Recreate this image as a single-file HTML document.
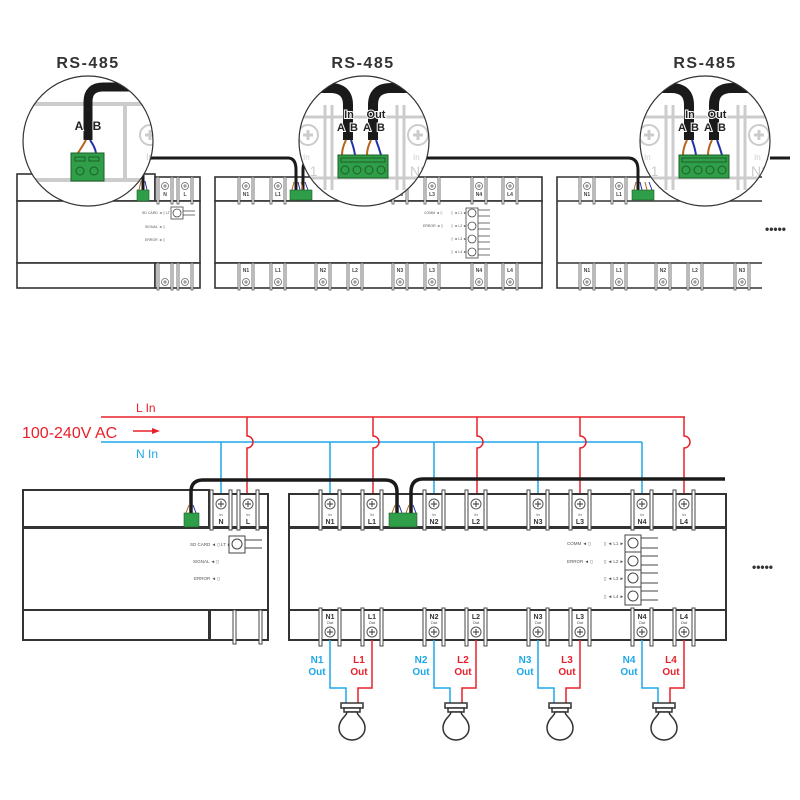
<!DOCTYPE html>
<html><head><meta charset="utf-8"><style>
html,body{margin:0;padding:0;background:#fff;}
svg{display:block;font-family:"Liberation Sans",sans-serif;}
</style></head><body>
<svg width="800" height="800" viewBox="0 0 800 800" xmlns="http://www.w3.org/2000/svg">
<defs>
  <g id="scr"><circle r="5" fill="#fff" stroke="#555" stroke-width="1"/><path d="M-3 0H3M0 -3V3" stroke="#555" stroke-width="1.2"/></g>
  <g id="scrs"><circle r="3.5" fill="#fff" stroke="#666" stroke-width="0.8"/><path d="M-2 0H2M0 -2V2" stroke="#666" stroke-width="0.8"/></g>
  <g id="bigscr"><circle r="10" fill="none" stroke="#ccc" stroke-width="2"/><path d="M-5 0H5M0 -5V5" stroke="#ccc" stroke-width="3"/></g>
  <g id="bulb" fill="#fff" stroke="#333" stroke-width="1.5">
    <rect x="-11" y="0" width="22" height="5"/>
    <rect x="-8" y="5" width="16" height="4"/>
    <path d="M-5 9 C-5 13 -13 16 -13 25 A13 12 0 0 0 13 25 C13 16 5 13 5 9 Z"/>
  </g>
  <g id="tb"><rect x="-11" y="-4" width="3" height="40" fill="#fff" stroke="#444"/><rect x="8" y="-4" width="3" height="40" fill="#fff" stroke="#444"/><use href="#scr" y="10"/></g>
  <g id="bb"><rect x="-11" y="-2" width="3" height="38" fill="#fff" stroke="#444"/><rect x="8" y="-2" width="3" height="38" fill="#fff" stroke="#444"/><use href="#scr" y="22"/></g>
  <g id="ts"><rect x="-8" y="-3" width="2" height="27" fill="#fff" stroke="#555" stroke-width="0.8"/><rect x="6" y="-3" width="2" height="27" fill="#fff" stroke="#555" stroke-width="0.8"/><use href="#scrs" y="6"/></g>
  <g id="bs"><rect x="-8" y="-1" width="2" height="27" fill="#fff" stroke="#555" stroke-width="0.8"/><rect x="6" y="-1" width="2" height="27" fill="#fff" stroke="#555" stroke-width="0.8"/><use href="#scrs" y="18"/></g>
  <clipPath id="c1"><circle cx="88" cy="141" r="65"/></clipPath>
  <clipPath id="c2"><circle cx="364" cy="141" r="65"/></clipPath>
  <clipPath id="c3"><circle cx="705" cy="141" r="65"/></clipPath>
</defs>

<g font-weight="bold" fill="#333" font-size="16" letter-spacing="1.5" text-anchor="middle">
  <text x="88" y="68">RS-485</text>
  <text x="363" y="68">RS-485</text>
  <text x="705" y="68">RS-485</text>
</g>

<g stroke="#333" stroke-width="1.6" fill="#fff">
  <rect x="17" y="174" width="138" height="27"/>
  <rect x="155" y="177" width="45" height="24"/>
  <rect x="17" y="201" width="183" height="62"/>
  <rect x="17" y="263" width="138" height="25"/>
  <rect x="155" y="263" width="45" height="25"/>
  <rect x="215" y="177" width="327" height="24"/>
  <rect x="215" y="201" width="327" height="62"/>
  <rect x="215" y="263" width="327" height="25"/>
  <path d="M762 177H557V288H762M557 201H762M557 263H762" fill="#fff"/>
</g>
<g>
  <use href="#ts" x="165" y="180"/><use href="#ts" x="185" y="180"/>
  <use href="#bs" x="165" y="264"/><use href="#bs" x="185" y="264"/>
  <use href="#ts" x="246" y="180"/><use href="#ts" x="278" y="180"/><use href="#ts" x="400" y="180"/><use href="#ts" x="432" y="180"/><use href="#ts" x="479" y="180"/><use href="#ts" x="510" y="180"/>
  <use href="#bs" x="246" y="264"/><use href="#bs" x="278" y="264"/><use href="#bs" x="323" y="264"/><use href="#bs" x="355" y="264"/><use href="#bs" x="400" y="264"/><use href="#bs" x="432" y="264"/><use href="#bs" x="479" y="264"/><use href="#bs" x="510" y="264"/>
  <use href="#ts" x="587" y="180"/><use href="#ts" x="619" y="180"/>
  <use href="#bs" x="587" y="264"/><use href="#bs" x="619" y="264"/><use href="#bs" x="663" y="264"/><use href="#bs" x="695" y="264"/><use href="#bs" x="742" y="264"/>
</g>
<g font-size="5" font-weight="bold" fill="#444" text-anchor="middle">
  <text x="165" y="196">N</text><text x="185" y="196">L</text>
  <text x="246" y="196">N1</text><text x="278" y="196">L1</text><text x="400" y="196">N3</text><text x="432" y="196">L3</text><text x="479" y="196">N4</text><text x="510" y="196">L4</text>
  <text x="587" y="196">N1</text><text x="619" y="196">L1</text>
  <text x="246" y="272">N1</text><text x="278" y="272">L1</text><text x="323" y="272">N2</text><text x="355" y="272">L2</text><text x="400" y="272">N3</text><text x="432" y="272">L3</text><text x="479" y="272">N4</text><text x="510" y="272">L4</text>
  <text x="587" y="272">N1</text><text x="619" y="272">L1</text><text x="663" y="272">N2</text><text x="695" y="272">L2</text><text x="742" y="272">N3</text>
</g>
<g font-size="3.5" fill="#555">
  <text x="142" y="214">SD CARD ◄ ▯ LT ►</text>
  <text x="145" y="228">SIGNAL ◄ ▯</text>
  <text x="145" y="241">ERROR ◄ ▯</text>
</g>
<rect x="171" y="207" width="12" height="12" fill="#fff" stroke="#444" stroke-width="0.8"/><circle cx="177" cy="213" r="4" fill="none" stroke="#444" stroke-width="0.8"/>
<path d="M183 211H195M183 215H195" stroke="#444" stroke-width="0.8"/>
<g font-size="3.5" fill="#555"><text x="424" y="214">COMM ◄ ▯</text><text x="423" y="227">ERROR ◄ ▯</text></g>
<g stroke="#444" stroke-width="0.8" fill="#fff">
  <rect x="466" y="208" width="12" height="50"/>
  <circle cx="472" cy="213" r="4"/><circle cx="472" cy="226" r="4"/><circle cx="472" cy="239" r="4"/><circle cx="472" cy="252" r="4"/>
  <path d="M478 210H490M478 216H490M478 223H490M478 229H490M478 236H490M478 242H490M478 249H490M478 255H490" fill="none"/>
</g>
<g font-size="3.5" fill="#555"><text x="451" y="214">▯ ◄ L1 ►</text><text x="451" y="227">▯ ◄ L2 ►</text><text x="451" y="240">▯ ◄ L3 ►</text><text x="451" y="253">▯ ◄ L4 ►</text></g>
<text x="765" y="233" font-size="12" font-weight="bold" fill="#333">•••••</text>

<g fill="none" stroke="#1a1a1a" stroke-width="3">
  <path d="M143 190V168Q143 158 153 158H288Q296 158 296 170V190"/>
  <path d="M303 190V170Q303 158 313 158H628Q638 158 638 170V190"/>
  <path d="M770 158H790"/>
</g>
<g fill="none" stroke-width="1">
  <path d="M141 181L139 190" stroke="#b5651d"/><path d="M145 181L147 190" stroke="#2233aa"/>
  <path d="M294 182L292 190" stroke="#b5651d"/><path d="M298 182L300 190" stroke="#2233aa"/>
  <path d="M301 182L303 190" stroke="#b5651d"/><path d="M305 182L308 190" stroke="#2233aa"/>
  <path d="M636 182L634 190" stroke="#b5651d"/><path d="M640 182L642 190" stroke="#2233aa"/>
  <path d="M645 182L647 190" stroke="#b5651d"/><path d="M649 182L652 190" stroke="#2233aa"/>
</g>
<rect x="137" y="190" width="12" height="11" fill="#2e9e48" stroke="#1e5e2a" stroke-width="0.6"/>
<rect x="290" y="190" width="22" height="10" fill="#2e9e48" stroke="#1e5e2a" stroke-width="0.6"/>
<rect x="632" y="190" width="22" height="10" fill="#2e9e48" stroke="#1e5e2a" stroke-width="0.6"/>

<!-- magnifier circle 1 -->
<circle cx="88" cy="141" r="65" fill="#fff"/>
<g clip-path="url(#c1)">
  <path d="M20 104H170M125 104V180M20 180H170" stroke="#ccc" stroke-width="4" fill="none"/>
  <use href="#bigscr" x="150" y="135"/>
  <text x="146" y="160" font-size="9" fill="#ccc">In</text>
  <path d="M88 140V102Q88 87 103 87H170" stroke="#1a1a1a" stroke-width="9" fill="none"/>
  <path d="M86 140Q82 147 78 153" stroke="#b5651d" stroke-width="2" fill="none"/>
  <path d="M90 140Q95 147 96 153" stroke="#2233aa" stroke-width="2" fill="none"/>
  <rect x="71" y="153" width="33" height="28" fill="#2e9e48" stroke="#1e5e2a"/>
  <rect x="75" y="157" width="10" height="4" fill="none" stroke="#1e5e2a"/><rect x="89" y="157" width="10" height="4" fill="none" stroke="#1e5e2a"/>
  <circle cx="80" cy="171" r="4" fill="none" stroke="#1e5e2a"/><circle cx="94" cy="171" r="4" fill="none" stroke="#1e5e2a"/>
  <g font-size="12" font-weight="bold" fill="#222" stroke="#fff" stroke-width="2" paint-order="stroke" text-anchor="middle">
    <text x="79" y="130">A</text><text x="97" y="130">B</text>
  </g>
</g>
<circle cx="88" cy="141" r="65" fill="none" stroke="#333" stroke-width="1.2"/>

<!-- magnifier circle 2 -->
<circle cx="364" cy="141" r="65" fill="#fff"/>
<g clip-path="url(#c2)">
  <path d="M290 117H440M290 178H440M325 105V190M332 105V190M397 105V190M404 105V190" stroke="#ccc" stroke-width="3" fill="none"/>
  <use href="#bigscr" x="308" y="135"/><use href="#bigscr" x="418" y="135"/>
  <text x="303" y="160" font-size="8" fill="#ccc">In</text><text x="302" y="176" font-size="14" fill="#ccc">L1</text>
  <text x="413" y="160" font-size="8" fill="#ccc">In</text><text x="410" y="176" font-size="14" fill="#ccc">N2</text>
  <path d="M348 140V105Q348 88 330 88H290" stroke="#1a1a1a" stroke-width="10" fill="none"/>
  <path d="M373 140V105Q373 88 391 88H440" stroke="#1a1a1a" stroke-width="10" fill="none"/>
  <path d="M346 140Q342 148 342 155" stroke="#b5651d" stroke-width="2" fill="none"/>
  <path d="M351 140Q354 148 355 155" stroke="#2233aa" stroke-width="2" fill="none"/>
  <path d="M371 140Q367 148 367 155" stroke="#b5651d" stroke-width="2" fill="none"/>
  <path d="M376 140Q379 148 381 155" stroke="#2233aa" stroke-width="2" fill="none"/>
  <rect x="338" y="155" width="50" height="23" fill="#2e9e48" stroke="#1e5e2a"/>
  <path d="M341 158H385V162H341Z" fill="none" stroke="#1e5e2a"/>
  <g fill="none" stroke="#1e5e2a"><circle cx="345" cy="170" r="4"/><circle cx="357" cy="170" r="4"/><circle cx="369" cy="170" r="4"/><circle cx="381" cy="170" r="4"/></g>
  <g font-size="11" font-weight="bold" fill="#222" stroke="#fff" stroke-width="2" paint-order="stroke" text-anchor="middle">
    <text x="349" y="118">In</text><text x="376" y="118">Out</text>
    <text x="341" y="131">A</text><text x="354" y="131">B</text><text x="367" y="131">A</text><text x="381" y="131">B</text>
  </g>
</g>
<circle cx="364" cy="141" r="65" fill="none" stroke="#333" stroke-width="1.2"/>

<!-- magnifier circle 3 -->
<circle cx="705" cy="141" r="65" fill="#fff"/>
<g clip-path="url(#c3)">
  <path d="M630 117H780M630 178H780M666 105V190M673 105V190M738 105V190M745 105V190" stroke="#ccc" stroke-width="3" fill="none"/>
  <use href="#bigscr" x="649" y="135"/><use href="#bigscr" x="759" y="135"/>
  <text x="644" y="160" font-size="8" fill="#ccc">In</text><text x="643" y="176" font-size="14" fill="#ccc">L1</text>
  <text x="754" y="160" font-size="8" fill="#ccc">In</text><text x="751" y="176" font-size="14" fill="#ccc">N2</text>
  <path d="M689 140V105Q689 88 671 88H630" stroke="#1a1a1a" stroke-width="10" fill="none"/>
  <path d="M714 140V105Q714 88 732 88H780" stroke="#1a1a1a" stroke-width="10" fill="none"/>
  <path d="M687 140Q683 148 683 155" stroke="#b5651d" stroke-width="2" fill="none"/>
  <path d="M692 140Q695 148 696 155" stroke="#2233aa" stroke-width="2" fill="none"/>
  <path d="M712 140Q708 148 708 155" stroke="#b5651d" stroke-width="2" fill="none"/>
  <path d="M717 140Q720 148 722 155" stroke="#2233aa" stroke-width="2" fill="none"/>
  <rect x="679" y="155" width="50" height="23" fill="#2e9e48" stroke="#1e5e2a"/>
  <path d="M682 158H726V162H682Z" fill="none" stroke="#1e5e2a"/>
  <g fill="none" stroke="#1e5e2a"><circle cx="686" cy="170" r="4"/><circle cx="698" cy="170" r="4"/><circle cx="710" cy="170" r="4"/><circle cx="722" cy="170" r="4"/></g>
  <g font-size="11" font-weight="bold" fill="#222" stroke="#fff" stroke-width="2" paint-order="stroke" text-anchor="middle">
    <text x="690" y="118">In</text><text x="717" y="118">Out</text>
    <text x="682" y="131">A</text><text x="695" y="131">B</text><text x="708" y="131">A</text><text x="722" y="131">B</text>
  </g>
</g>
<circle cx="705" cy="141" r="65" fill="none" stroke="#333" stroke-width="1.2"/>

<!-- ============ BOTTOM SECTION ============ -->
<text x="22" y="438" font-size="16" fill="#e8202a">100-240V AC</text>
<path d="M133 431H154" stroke="#e8202a" stroke-width="1.5"/><path d="M160 431L152 428V434Z" fill="#e8202a"/>
<text x="136" y="412" font-size="12" fill="#e8202a">L In</text>
<text x="136" y="458" font-size="12" fill="#1ea7e8">N In</text>

<g stroke="#1ea7e8" stroke-width="1.5" fill="none">
  <path d="M101 442H642"/>
  <path d="M221 442V494M330 442V494M434 442V494M538 442V494M642 442V494"/>
</g>
<g stroke="#e8202a" stroke-width="1.5" fill="none">
  <path d="M101 417H685"/>
  <path d="M247 417V436A6 6 0 0 1 247 448V494"/>
  <path d="M373 417V436A6 6 0 0 1 373 448V494"/>
  <path d="M477 417V436A6 6 0 0 1 477 448V494"/>
  <path d="M580 417V436A6 6 0 0 1 580 448V494"/>
  <path d="M684 417V436A6 6 0 0 1 684 448V494"/>
</g>

<g stroke="#333" stroke-width="2" fill="#fff">
  <rect x="23" y="490" width="186" height="37"/>
  <rect x="210" y="494" width="58" height="33"/>
  <rect x="23" y="528" width="245" height="82"/>
  <rect x="23" y="610" width="186" height="30"/>
  <rect x="210" y="610" width="58" height="30"/>
</g>
<use href="#tb" x="221" y="494"/><use href="#tb" x="248" y="494"/>
<rect x="233" y="610" width="3" height="34" fill="#fff" stroke="#444"/><rect x="259" y="610" width="3" height="34" fill="#fff" stroke="#444"/>
<g font-size="4" fill="#444" text-anchor="middle"><text x="221" y="516">In</text><text x="248" y="516">In</text></g>
<g font-size="7" font-weight="bold" fill="#333" text-anchor="middle"><text x="221" y="524">N</text><text x="248" y="524">L</text></g>
<g font-size="4.5" fill="#555">
  <text x="190" y="546">SD CARD ◄ ▯ LT ►</text>
  <text x="193" y="563">SIGNAL ◄ ▯</text>
  <text x="194" y="580">ERROR ◄ ▯</text>
</g>
<rect x="229" y="536" width="16" height="17" fill="#fff" stroke="#444"/><circle cx="237" cy="544" r="5" fill="none" stroke="#444"/>
<path d="M245 540H262M245 548H262" stroke="#444"/>

<g stroke="#333" stroke-width="2" fill="#fff">
  <rect x="289" y="494" width="437" height="33"/>
  <rect x="289" y="528" width="437" height="82"/>
  <rect x="289" y="610" width="437" height="30"/>
</g>
<g>
  <use href="#tb" x="330" y="494"/><use href="#tb" x="372" y="494"/><use href="#tb" x="434" y="494"/><use href="#tb" x="476" y="494"/>
  <use href="#tb" x="538" y="494"/><use href="#tb" x="580" y="494"/><use href="#tb" x="642" y="494"/><use href="#tb" x="684" y="494"/>
  <use href="#bb" x="330" y="610"/><use href="#bb" x="372" y="610"/><use href="#bb" x="434" y="610"/><use href="#bb" x="476" y="610"/>
  <use href="#bb" x="538" y="610"/><use href="#bb" x="580" y="610"/><use href="#bb" x="642" y="610"/><use href="#bb" x="684" y="610"/>
</g>
<g font-size="4" fill="#444" text-anchor="middle">
  <text x="330" y="516">In</text><text x="372" y="516">In</text><text x="434" y="516">In</text><text x="476" y="516">In</text><text x="538" y="516">In</text><text x="580" y="516">In</text><text x="642" y="516">In</text><text x="684" y="516">In</text>
  <text x="330" y="624">Out</text><text x="372" y="624">Out</text><text x="434" y="624">Out</text><text x="476" y="624">Out</text><text x="538" y="624">Out</text><text x="580" y="624">Out</text><text x="642" y="624">Out</text><text x="684" y="624">Out</text>
</g>
<g font-size="7" font-weight="bold" fill="#333" text-anchor="middle">
  <text x="330" y="524">N1</text><text x="372" y="524">L1</text><text x="434" y="524">N2</text><text x="476" y="524">L2</text><text x="538" y="524">N3</text><text x="580" y="524">L3</text><text x="642" y="524">N4</text><text x="684" y="524">L4</text>
  <text x="330" y="619">N1</text><text x="372" y="619">L1</text><text x="434" y="619">N2</text><text x="476" y="619">L2</text><text x="538" y="619">N3</text><text x="580" y="619">L3</text><text x="642" y="619">N4</text><text x="684" y="619">L4</text>
</g>
<g font-size="4.5" fill="#555">
  <text x="567" y="545">COMM ◄ ▯</text><text x="567" y="563">ERROR ◄ ▯</text>
  <text x="604" y="545">▯ ◄ L1 ►</text><text x="604" y="563">▯ ◄ L2 ►</text><text x="604" y="580">▯ ◄ L3 ►</text><text x="604" y="598">▯ ◄ L4 ►</text>
</g>
<g stroke="#444" stroke-width="1" fill="#fff">
  <rect x="625" y="535" width="16" height="70"/>
  <path d="M625 552H641M625 570H641M625 587H641"/>
  <circle cx="633" cy="543" r="5"/><circle cx="633" cy="561" r="5"/><circle cx="633" cy="578" r="5"/><circle cx="633" cy="596" r="5"/>
  <path d="M641 538H658M641 548H658M641 556H658M641 565H658M641 573H658M641 583H658M641 591H658M641 600H658" fill="none"/>
</g>
<text x="752" y="571" font-size="12" font-weight="bold" fill="#333">•••••</text>

<g fill="none" stroke="#1a1a1a" stroke-width="3.5">
  <path d="M191 513V492Q191 480 203 480H385Q397 480 397 492V513"/>
  <path d="M411 513V492Q411 479 423 479H725"/>
</g>
<g fill="none" stroke-width="1">
  <path d="M189 505L186 513" stroke="#b5651d"/><path d="M193 505L196 513" stroke="#2233aa"/>
  <path d="M395 505L392 513" stroke="#b5651d"/><path d="M399 505L402 513" stroke="#2233aa"/>
  <path d="M409 505L406 513" stroke="#b5651d"/><path d="M413 505L416 513" stroke="#2233aa"/>
</g>
<rect x="184" y="513" width="15" height="14" fill="#2e9e48" stroke="#1e5e2a" stroke-width="0.6"/>
<rect x="389" y="513" width="28" height="14" fill="#2e9e48" stroke="#1e5e2a" stroke-width="0.6"/>

<g fill="none" stroke-width="1.5">
  <path d="M330 640V688H346V703" stroke="#1ea7e8"/><path d="M372 640V688H358V703" stroke="#e8202a"/>
  <path d="M434 640V688H450V703" stroke="#1ea7e8"/><path d="M476 640V688H462V703" stroke="#e8202a"/>
  <path d="M538 640V688H554V703" stroke="#1ea7e8"/><path d="M580 640V688H566V703" stroke="#e8202a"/>
  <path d="M642 640V688H658V703" stroke="#1ea7e8"/><path d="M684 640V688H670V703" stroke="#e8202a"/>
</g>
<use href="#bulb" x="352" y="703"/><use href="#bulb" x="456" y="703"/><use href="#bulb" x="560" y="703"/><use href="#bulb" x="664" y="703"/>
<g font-size="10" font-weight="bold" text-anchor="middle">
  <g fill="#1ea7e8"><text x="317" y="663">N1</text><text x="317" y="675">Out</text><text x="421" y="663">N2</text><text x="421" y="675">Out</text><text x="525" y="663">N3</text><text x="525" y="675">Out</text><text x="629" y="663">N4</text><text x="629" y="675">Out</text></g>
  <g fill="#e8202a"><text x="359" y="663">L1</text><text x="359" y="675">Out</text><text x="463" y="663">L2</text><text x="463" y="675">Out</text><text x="567" y="663">L3</text><text x="567" y="675">Out</text><text x="671" y="663">L4</text><text x="671" y="675">Out</text></g>
</g>
</svg>
</body></html>
